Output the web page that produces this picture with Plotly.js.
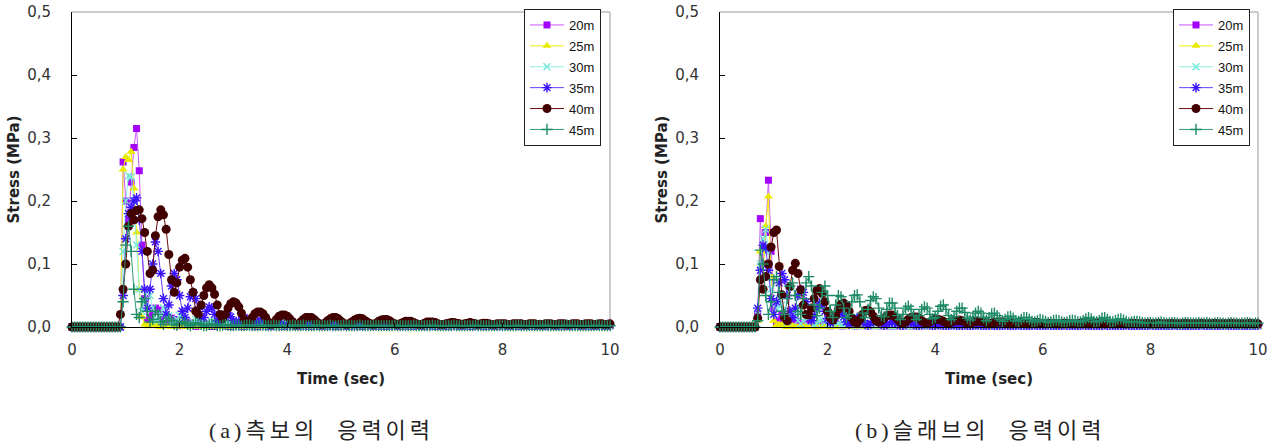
<!DOCTYPE html>
<html>
<head>
<meta charset="utf-8">
<script src="https://cdn.plot.ly/plotly-3.0.1.min.js"></script>
<style>
  html, body { margin: 0; padding: 0; background: #fff; }
  #chart { width: 1268px; height: 444px; }
</style>
</head>
<body>
<div id="chart"></div>
<script>
// Sampling instants (sec), 0.05 s step
const time = [
  0,0.05,0.1,0.15,0.2,0.25,0.3,0.35,0.4,0.45,0.5,0.55,0.6,0.65,0.7,0.75,0.8,0.85,0.9,0.95,
  1,1.05,1.1,1.15,1.2,1.25,1.3,1.35,1.4,1.45,1.5,1.55,1.6,1.65,1.7,1.75,1.8,1.85,1.9,1.95,
  2,2.05,2.1,2.15,2.2,2.25,2.3,2.35,2.4,2.45,2.5,2.55,2.6,2.65,2.7,2.75,2.8,2.85,2.9,2.95,
  3,3.05,3.1,3.15,3.2,3.25,3.3,3.35,3.4,3.45,3.5,3.55,3.6,3.65,3.7,3.75,3.8,3.85,3.9,3.95,
  4,4.05,4.1,4.15,4.2,4.25,4.3,4.35,4.4,4.45,4.5,4.55,4.6,4.65,4.7,4.75,4.8,4.85,4.9,4.95,
  5,5.05,5.1,5.15,5.2,5.25,5.3,5.35,5.4,5.45,5.5,5.55,5.6,5.65,5.7,5.75,5.8,5.85,5.9,5.95,
  6,6.05,6.1,6.15,6.2,6.25,6.3,6.35,6.4,6.45,6.5,6.55,6.6,6.65,6.7,6.75,6.8,6.85,6.9,6.95,
  7,7.05,7.1,7.15,7.2,7.25,7.3,7.35,7.4,7.45,7.5,7.55,7.6,7.65,7.7,7.75,7.8,7.85,7.9,7.95,
  8,8.05,8.1,8.15,8.2,8.25,8.3,8.35,8.4,8.45,8.5,8.55,8.6,8.65,8.7,8.75,8.8,8.85,8.9,8.95,
  9,9.05,9.1,9.15,9.2,9.25,9.3,9.35,9.4,9.45,9.5,9.55,9.6,9.65,9.7,9.75,9.8,9.85,9.9,9.95,
  10
];

const seriesLabels = ['20m', '25m', '30m', '35m', '40m', '45m'];

// (a) side beam stress history (MPa)
const beam20 = [
  0,0,0,0,0,0,0,0,0,0,0,0,0,0,0,0,0,0,0,0.262,
  0.2,0.17,0.23,0.285,0.315,0.248,0.13,0.045,0.01,0.015,0.025,0.03,0.027,0.015,0.005,0.004,0.01,0.014,0.012,0.006,
  0.002,0.003,0.006,0.008,0.006,0.003,0.001,0.002,0.004,0.005,0.004,0.002,0.001,0.001,0.003,0.004,0.003,0.002,0.001,0.001,
  0.002,0.003,0.002,0.001,0.001,0.002,0.003,0.002,0.001,0.001,0.002,0.002,0.002,0.001,0.001,0.002,0.003,0.002,0.001,0.001,
  0.002,0.002,0.002,0.001,0.001,0.002,0.002,0.002,0.001,0.001,0.002,0.002,0.002,0.001,0.001,0.002,0.002,0.002,0.001,0.001,
  0.002,0.002,0.001,0.001,0.002,0.002,0.002,0.001,0.001,0.002,0.002,0.002,0.001,0.001,0.002,0.002,0.001,0.001,0.002,0.002,
  0.002,0.001,0.001,0.002,0.002,0.002,0.001,0.001,0.002,0.002,0.001,0.001,0.002,0.002,0.002,0.001,0.001,0.002,0.002,0.001,
  0.001,0.002,0.002,0.002,0.001,0.001,0.002,0.002,0.001,0.001,0.002,0.002,0.002,0.001,0.001,0.002,0.002,0.001,0.001,0.002,
  0.002,0.002,0.001,0.001,0.002,0.002,0.001,0.001,0.002,0.002,0.002,0.001,0.001,0.002,0.002,0.001,0.001,0.002,0.002,0.002,
  0.001,0.001,0.002,0.002,0.001,0.001,0.002,0.002,0.002,0.001,0.001,0.002,0.002,0.001,0.001,0.002,0.002,0.002,0.001,0.001,
  0.002
];
const beam25 = [
  0,0,0,0,0,0,0,0,0,0,0,0,0,0,0,0,0,0,0,0.25,
  0.27,0.265,0.278,0.22,0.15,0.06,0.016,0.004,0.001,0.003,0.004,0.002,0.001,0,0.001,0.002,0.001,0,0,0.001,
  0.001,0,0,0.001,0.001,0,0,0,0.001,0.001,0,0,0,0.001,0,0,0,0.001,0,0,
  0,0.001,0,0,0,0.001,0,0,0,0,0.001,0,0,0,0,0.001,0,0,0,0,
  0,0,0.001,0,0,0,0,0.001,0,0,0,0,0,0.001,0,0,0,0,0,0,
  0,0,0,0,0,0,0,0,0,0,0,0,0,0,0,0,0,0,0,0,
  0,0,0,0,0,0,0,0,0,0,0,0,0,0,0,0,0,0,0,0,
  0,0,0,0,0,0,0,0,0,0,0,0,0,0,0,0,0,0,0,0,
  0,0,0,0,0,0,0,0,0,0,0,0,0,0,0,0,0,0,0,0,
  0,0,0,0,0,0,0,0,0,0,0,0,0,0,0,0,0,0,0,0,
  0
];
const beam30 = [
  0,0,0,0,0,0,0,0,0,0,0,0,0,0,0,0,0,0,0,0.12,
  0.2,0.24,0.238,0.2,0.13,0.06,0.025,0.04,0.055,0.05,0.03,0.012,0.01,0.02,0.03,0.028,0.018,0.008,0.006,0.012,
  0.018,0.017,0.011,0.005,0.004,0.008,0.012,0.012,0.008,0.004,0.003,0.006,0.009,0.008,0.005,0.003,0.003,0.005,0.007,0.006,
  0.004,0.002,0.003,0.005,0.005,0.004,0.002,0.002,0.003,0.004,0.004,0.003,0.002,0.002,0.003,0.003,0.003,0.002,0.002,0.002,
  0.003,0.003,0.002,0.002,0.002,0.003,0.003,0.002,0.002,0.002,0.003,0.003,0.002,0.002,0.002,0.003,0.002,0.002,0.002,0.003,
  0.002,0.002,0.002,0.003,0.002,0.002,0.002,0.003,0.002,0.002,0.002,0.003,0.002,0.002,0.002,0.002,0.003,0.002,0.002,0.002,
  0.002,0.003,0.002,0.002,0.002,0.002,0.003,0.002,0.002,0.002,0.002,0.002,0.003,0.002,0.002,0.002,0.002,0.002,0.003,0.002,
  0.002,0.002,0.002,0.002,0.003,0.002,0.002,0.002,0.002,0.002,0.002,0.003,0.002,0.002,0.002,0.002,0.002,0.002,0.003,0.002,
  0.002,0.002,0.002,0.002,0.002,0.003,0.002,0.002,0.002,0.002,0.002,0.002,0.002,0.003,0.002,0.002,0.002,0.002,0.002,0.002,
  0.002,0.003,0.002,0.002,0.002,0.002,0.002,0.002,0.002,0.002,0.003,0.002,0.002,0.002,0.002,0.002,0.002,0.002,0.002,0.002,
  0.002
];
const beam35 = [
  0,0,0,0,0,0,0,0,0,0,0,0,0,0,0,0,0,0,0,0.05,
  0.14,0.18,0.19,0.2,0.205,0.17,0.12,0.06,0.03,0.06,0.1,0.135,0.12,0.085,0.045,0.02,0.035,0.065,0.085,0.075,
  0.05,0.025,0.015,0.03,0.048,0.055,0.045,0.028,0.015,0.015,0.025,0.032,0.03,0.02,0.01,0.008,0.014,0.02,0.022,0.016,
  0.01,0.006,0.008,0.012,0.015,0.012,0.008,0.005,0.005,0.008,0.011,0.01,0.007,0.004,0.004,0.006,0.008,0.008,0.006,0.004,
  0.003,0.004,0.006,0.006,0.005,0.003,0.003,0.004,0.005,0.005,0.004,0.003,0.003,0.004,0.004,0.004,0.003,0.003,0.003,0.004,
  0.004,0.004,0.003,0.003,0.003,0.004,0.004,0.003,0.003,0.003,0.004,0.004,0.003,0.003,0.003,0.004,0.003,0.003,0.003,0.004,
  0.003,0.003,0.004,0.003,0.003,0.003,0.004,0.003,0.003,0.003,0.003,0.004,0.003,0.003,0.003,0.003,0.004,0.003,0.003,0.003,
  0.003,0.004,0.003,0.003,0.003,0.003,0.003,0.004,0.003,0.003,0.003,0.003,0.003,0.004,0.003,0.003,0.003,0.003,0.003,0.003,
  0.004,0.003,0.003,0.003,0.003,0.003,0.003,0.004,0.003,0.003,0.003,0.003,0.003,0.003,0.004,0.003,0.003,0.003,0.003,0.003,
  0.003,0.003,0.004,0.003,0.003,0.003,0.003,0.003,0.003,0.003,0.004,0.003,0.003,0.003,0.003,0.003,0.003,0.003,0.003,0.004,
  0.003
];
const beam40 = [
  0,0,0,0,0,0,0,0,0,0,0,0,0,0,0,0,0,0,0.02,0.06,
  0.1,0.16,0.18,0.17,0.185,0.186,0.172,0.15,0.12,0.085,0.09,0.145,0.175,0.186,0.178,0.155,0.115,0.075,0.055,0.07,
  0.095,0.106,0.109,0.095,0.075,0.055,0.025,0.02,0.035,0.05,0.062,0.067,0.062,0.052,0.035,0.02,0.013,0.02,0.03,0.037,
  0.04,0.038,0.032,0.022,0.012,0.006,0.008,0.015,0.021,0.024,0.024,0.021,0.015,0.008,0.004,0.006,0.012,0.017,0.019,0.019,
  0.017,0.013,0.008,0.004,0.004,0.008,0.012,0.015,0.015,0.015,0.012,0.008,0.005,0.004,0.006,0.01,0.013,0.015,0.015,0.013,
  0.009,0.006,0.004,0.005,0.008,0.011,0.013,0.014,0.013,0.01,0.007,0.005,0.004,0.006,0.009,0.011,0.012,0.012,0.01,0.007,
  0.005,0.004,0.005,0.007,0.009,0.009,0.009,0.007,0.005,0.004,0.004,0.006,0.008,0.008,0.008,0.007,0.005,0.004,0.004,0.005,
  0.006,0.007,0.007,0.006,0.005,0.004,0.005,0.006,0.007,0.006,0.005,0.004,0.005,0.006,0.006,0.005,0.004,0.004,0.005,0.005,
  0.005,0.005,0.004,0.004,0.005,0.005,0.005,0.005,0.004,0.004,0.005,0.005,0.005,0.004,0.004,0.004,0.005,0.005,0.005,0.004,
  0.004,0.005,0.005,0.005,0.004,0.004,0.005,0.005,0.005,0.004,0.004,0.005,0.005,0.005,0.004,0.004,0.005,0.005,0.004,0.004,
  0.005
];
const beam45 = [
  0,0,0,0,0,0,0,0,0,0,0,0,0,0,0,0,0,0,0,0.04,
  0.13,0.16,0.12,0.06,0.02,0.015,0.04,0.045,0.025,0.008,0.012,0.025,0.02,0.008,0.004,0.01,0.014,0.01,0.004,0.003,
  0.006,0.009,0.007,0.004,0.002,0.004,0.006,0.006,0.004,0.002,0.002,0.004,0.005,0.004,0.002,0.002,0.003,0.004,0.003,0.002,
  0.002,0.003,0.003,0.002,0.002,0.003,0.003,0.002,0.002,0.002,0.003,0.003,0.002,0.002,0.002,0.003,0.002,0.002,0.002,0.003,
  0.002,0.002,0.003,0.002,0.002,0.002,0.003,0.002,0.002,0.002,0.002,0.003,0.002,0.002,0.002,0.002,0.003,0.002,0.002,0.002,
  0.002,0.003,0.002,0.002,0.002,0.002,0.002,0.003,0.002,0.002,0.002,0.002,0.002,0.003,0.002,0.002,0.002,0.002,0.002,0.002,
  0.003,0.002,0.002,0.002,0.002,0.002,0.002,0.003,0.002,0.002,0.002,0.002,0.002,0.002,0.003,0.002,0.002,0.002,0.002,0.002,
  0.002,0.002,0.003,0.002,0.002,0.002,0.002,0.002,0.002,0.002,0.003,0.002,0.002,0.002,0.002,0.002,0.002,0.002,0.002,0.003,
  0.002,0.002,0.002,0.002,0.002,0.002,0.003,0.002,0.002,0.002,0.002,0.002,0.002,0.002,0.002,0.002,0.003,0.002,0.002,0.002,
  0.002,0.002,0.002,0.002,0.003,0.002,0.002,0.002,0.002,0.002,0.002,0.002,0.002,0.002,0.002,0.003,0.002,0.002,0.002,0.002,
  0.002
];

// (b) slab stress history (MPa)
const slab20 = [
  0,0,0,0,0,0,0,0,0,0,0,0,0,0,0.02,0.172,0.1,0.15,0.233,0.12,
  0.03,0.005,0.01,0.02,0.018,0.008,0.003,0.008,0.012,0.009,0.004,0.003,0.006,0.008,0.006,0.003,0.002,0.004,0.006,0.005,
  0.003,0.002,0.003,0.005,0.004,0.002,0.002,0.003,0.004,0.003,0.002,0.002,0.003,0.003,0.002,0.002,0.002,0.003,0.003,0.002,
  0.002,0.002,0.003,0.002,0.002,0.002,0.002,0.003,0.002,0.002,0.002,0.002,0.002,0.003,0.002,0.002,0.002,0.002,0.002,0.002,
  0.003,0.002,0.002,0.002,0.002,0.002,0.002,0.002,0.003,0.002,0.002,0.002,0.002,0.002,0.002,0.002,0.002,0.003,0.002,0.002,
  0.002,0.002,0.002,0.002,0.002,0.002,0.002,0.002,0.002,0.002,0.002,0.002,0.002,0.002,0.002,0.002,0.002,0.002,0.002,0.002,
  0.002,0.002,0.002,0.002,0.002,0.002,0.002,0.002,0.002,0.002,0.002,0.002,0.002,0.002,0.002,0.002,0.002,0.002,0.002,0.002,
  0.002,0.002,0.002,0.002,0.002,0.002,0.002,0.002,0.002,0.002,0.002,0.002,0.002,0.002,0.002,0.002,0.002,0.002,0.002,0.002,
  0.002,0.002,0.002,0.002,0.002,0.002,0.002,0.002,0.002,0.002,0.002,0.002,0.002,0.002,0.002,0.002,0.002,0.002,0.002,0.002,
  0.002,0.002,0.002,0.002,0.002,0.002,0.002,0.002,0.002,0.002,0.002,0.002,0.002,0.002,0.002,0.002,0.002,0.002,0.002,0.002,
  0.002
];
const slab25 = [
  0,0,0,0,0,0,0,0,0,0,0,0,0,0,0.01,0.12,0.08,0.16,0.207,0.08,
  0.01,0.003,0.004,0.003,0.001,0,0.001,0.002,0.001,0,0,0.001,0.001,0,0,0,0.001,0,0,0,
  0,0.001,0,0,0,0,0.001,0,0,0,0,0,0.001,0,0,0,0,0,0,0,
  0,0,0,0,0,0,0,0,0,0,0,0,0,0,0,0,0,0,0,0,
  0,0,0,0,0,0,0,0,0,0,0,0,0,0,0,0,0,0,0,0,
  0,0,0,0,0,0,0,0,0,0,0,0,0,0,0,0,0,0,0,0,
  0,0,0,0,0,0,0,0,0,0,0,0,0,0,0,0,0,0,0,0,
  0,0,0,0,0,0,0,0,0,0,0,0,0,0,0,0,0,0,0,0,
  0,0,0,0,0,0,0,0,0,0,0,0,0,0,0,0,0,0,0,0,
  0,0,0,0,0,0,0,0,0,0,0,0,0,0,0,0,0,0,0,0,
  0
];
const slab30 = [
  0,0,0,0,0,0,0,0,0,0,0,0,0,0,0.02,0.1,0.14,0.155,0.12,0.06,
  0.02,0.03,0.045,0.035,0.015,0.008,0.018,0.025,0.02,0.01,0.005,0.01,0.016,0.015,0.009,0.004,0.006,0.01,0.011,0.007,
  0.004,0.004,0.007,0.008,0.006,0.003,0.003,0.005,0.006,0.005,0.003,0.002,0.004,0.005,0.004,0.002,0.002,0.003,0.004,0.003,
  0.002,0.002,0.003,0.003,0.002,0.002,0.002,0.003,0.003,0.002,0.002,0.002,0.003,0.002,0.002,0.002,0.002,0.003,0.002,0.002,
  0.002,0.003,0.002,0.002,0.002,0.002,0.003,0.002,0.002,0.002,0.002,0.002,0.003,0.002,0.002,0.002,0.002,0.002,0.002,0.003,
  0.002,0.002,0.002,0.002,0.002,0.002,0.002,0.003,0.002,0.002,0.002,0.002,0.002,0.002,0.002,0.002,0.003,0.002,0.002,0.002,
  0.002,0.002,0.002,0.002,0.002,0.002,0.002,0.002,0.002,0.003,0.002,0.002,0.002,0.002,0.002,0.002,0.002,0.002,0.002,0.002,
  0.002,0.002,0.002,0.003,0.002,0.002,0.002,0.002,0.002,0.002,0.002,0.002,0.002,0.002,0.002,0.003,0.002,0.002,0.002,0.002,
  0.002,0.002,0.002,0.002,0.002,0.002,0.002,0.002,0.002,0.002,0.002,0.002,0.002,0.002,0.002,0.002,0.002,0.002,0.002,0.002,
  0.002,0.002,0.002,0.002,0.002,0.002,0.002,0.002,0.002,0.002,0.002,0.002,0.002,0.002,0.002,0.002,0.002,0.002,0.002,0.002,
  0.002
];
const slab35 = [
  0,0,0,0,0,0,0,0,0,0,0,0,0,0,0.03,0.09,0.13,0.125,0.09,0.045,
  0.02,0.04,0.07,0.085,0.075,0.05,0.025,0.015,0.03,0.05,0.06,0.055,0.04,0.02,0.01,0.018,0.03,0.038,0.035,0.025,
  0.013,0.006,0.01,0.018,0.024,0.022,0.016,0.008,0.004,0.007,0.012,0.015,0.014,0.01,0.005,0.003,0.006,0.009,0.01,0.008,
  0.005,0.003,0.004,0.006,0.008,0.007,0.005,0.003,0.003,0.005,0.006,0.006,0.004,0.003,0.003,0.004,0.005,0.005,0.004,0.003,
  0.003,0.004,0.004,0.003,0.003,0.003,0.004,0.004,0.003,0.003,0.003,0.004,0.003,0.003,0.003,0.004,0.004,0.003,0.003,0.003,
  0.003,0.004,0.003,0.003,0.003,0.003,0.004,0.003,0.003,0.003,0.003,0.004,0.003,0.003,0.003,0.003,0.003,0.004,0.003,0.003,
  0.003,0.003,0.004,0.003,0.003,0.003,0.003,0.003,0.004,0.003,0.003,0.003,0.003,0.003,0.003,0.004,0.003,0.003,0.003,0.003,
  0.003,0.003,0.003,0.004,0.003,0.003,0.003,0.003,0.003,0.003,0.003,0.004,0.003,0.003,0.003,0.003,0.003,0.003,0.003,0.003,
  0.004,0.003,0.003,0.003,0.003,0.003,0.003,0.003,0.003,0.004,0.003,0.003,0.003,0.003,0.003,0.003,0.003,0.003,0.003,0.004,
  0.003,0.003,0.003,0.003,0.003,0.003,0.003,0.003,0.004,0.003,0.003,0.003,0.003,0.003,0.003,0.003,0.003,0.003,0.003,0.003,
  0.003
];
const slab40 = [
  0,0,0,0,0,0,0,0,0,0,0,0,0,0,0.014,0.075,0.06,0.08,0.1,0.127,
  0.15,0.154,0.096,0.051,0.015,0.01,0.064,0.09,0.101,0.085,0.059,0.035,0.02,0.019,0.03,0.045,0.058,0.061,0.053,0.04,
  0.025,0.014,0.011,0.018,0.028,0.036,0.038,0.035,0.025,0.014,0.008,0.006,0.012,0.02,0.026,0.027,0.024,0.017,0.01,0.008,
  0.01,0.014,0.018,0.019,0.019,0.016,0.012,0.008,0.006,0.008,0.012,0.015,0.016,0.016,0.014,0.01,0.007,0.006,0.008,0.011,
  0.013,0.012,0.011,0.009,0.007,0.006,0.008,0.01,0.01,0.011,0.01,0.008,0.006,0.006,0.008,0.009,0.009,0.009,0.008,0.007,
  0.005,0.006,0.007,0.008,0.008,0.008,0.007,0.005,0.005,0.006,0.007,0.007,0.007,0.006,0.005,0.005,0.006,0.007,0.007,0.006,
  0.005,0.005,0.006,0.006,0.006,0.005,0.005,0.005,0.006,0.006,0.006,0.005,0.005,0.005,0.006,0.006,0.005,0.005,0.005,0.006,
  0.006,0.005,0.005,0.005,0.006,0.006,0.005,0.005,0.005,0.006,0.005,0.005,0.005,0.006,0.006,0.005,0.005,0.005,0.005,0.006,
  0.005,0.005,0.005,0.006,0.005,0.005,0.005,0.005,0.006,0.005,0.005,0.005,0.005,0.006,0.005,0.005,0.005,0.005,0.005,0.006,
  0.005,0.005,0.005,0.005,0.006,0.005,0.005,0.005,0.005,0.005,0.006,0.005,0.005,0.005,0.005,0.005,0.005,0.006,0.005,0.005,
  0.005
];
const slab45 = [
  0,0,0,0,0,0,0,0,0,0,0,0,0,0,0.01,0.122,0.1,0.05,0.02,0.04,
  0.075,0.08,0.055,0.025,0.02,0.045,0.065,0.07,0.05,0.025,0.02,0.045,0.07,0.08,0.065,0.035,0.018,0.03,0.055,0.065,
  0.05,0.025,0.015,0.035,0.05,0.048,0.03,0.015,0.02,0.04,0.05,0.051,0.04,0.022,0.015,0.028,0.042,0.048,0.045,0.03,
  0.018,0.016,0.028,0.038,0.038,0.03,0.018,0.012,0.02,0.03,0.033,0.028,0.018,0.012,0.018,0.028,0.032,0.03,0.02,0.013,
  0.015,0.025,0.033,0.035,0.028,0.018,0.012,0.016,0.025,0.03,0.03,0.023,0.014,0.011,0.016,0.022,0.025,0.022,0.015,0.01,
  0.015,0.021,0.022,0.018,0.012,0.009,0.012,0.016,0.017,0.014,0.01,0.009,0.012,0.015,0.015,0.012,0.009,0.008,0.01,0.012,
  0.011,0.009,0.007,0.008,0.01,0.011,0.01,0.008,0.007,0.008,0.01,0.011,0.01,0.008,0.008,0.01,0.013,0.015,0.013,0.009,
  0.008,0.01,0.014,0.015,0.012,0.009,0.008,0.01,0.012,0.013,0.011,0.009,0.007,0.008,0.009,0.009,0.008,0.007,0.006,0.007,
  0.007,0.006,0.006,0.007,0.008,0.007,0.006,0.006,0.007,0.007,0.006,0.005,0.006,0.007,0.007,0.006,0.006,0.006,0.007,0.006,
  0.006,0.007,0.006,0.005,0.006,0.007,0.006,0.006,0.005,0.006,0.007,0.006,0.006,0.005,0.006,0.006,0.007,0.006,0.005,0.006,
  0.006
];

const beamSeries = [beam20, beam25, beam30, beam35, beam40, beam45];
const slabSeries = [slab20, slab25, slab30, slab35, slab40, slab45];

// Line / marker look of each span length
const styles = [
  { line: '#cc55ff', marker: '#a400ff', symbol: 'square',          size: 7, open: false },
  { line: '#f0f000', marker: '#eaea00', symbol: 'triangle-up',     size: 8, open: false },
  { line: '#8ef0e2', marker: '#74e8d8', symbol: 'x-thin-open',     size: 7, open: true },
  { line: '#6a3cff', marker: '#3a12ff', symbol: 'asterisk-open',   size: 8, open: true },
  { line: '#6e0a0a', marker: '#420000', symbol: 'circle',          size: 9, open: false },
  { line: '#2f9a78', marker: '#1f8a66', symbol: 'cross-thin-open', size: 8, open: true }
];

function makeTraces(series, xa, ya, legendId, groupPrefix) {
  return series.map((vals, k) => {
    const s = styles[k];
    const marker = { symbol: s.symbol, size: s.size, color: s.marker };
    if (s.open) marker.line = { color: s.marker, width: 1.4 };
    else marker.line = { color: s.marker, width: 0 };
    return {
      type: 'scatter', mode: 'lines+markers',
      x: time, y: vals, xaxis: xa, yaxis: ya,
      name: seriesLabels[k], legend: legendId, legendgroup: groupPrefix + k,
      line: { color: s.line, width: 1 },
      marker: marker, cliponaxis: false
    };
  });
}

const traces = makeTraces(beamSeries, 'x', 'y', 'legend', 'a')
  .concat(makeTraces(slabSeries, 'x2', 'y2', 'legend2', 'b'));

const W = 1268, H = 444;
const tickFont = { family: 'DejaVu Sans, sans-serif', size: 15, color: '#333' };
const titleFont = { family: 'DejaVu Sans, sans-serif', size: 15, color: '#222', weight: 'bold' };

function xAxis(x0, x1, anchor) {
  return {
    domain: [x0 / W, x1 / W], anchor: anchor, range: [0, 10], tick0: 0, dtick: 2,
    showgrid: false, zeroline: false, showline: true, linecolor: '#000', linewidth: 1,
    ticks: 'inside', ticklen: 4, tickcolor: '#000', tickfont: tickFont, ticklabelstandoff: 9,
    title: { text: 'Time (sec)', font: titleFont, standoff: 15 }
  };
}
function yAxis(anchor) {
  return {
    domain: [1 - 327 / H, 1 - 12 / H], anchor: anchor, range: [0, 0.5], dtick: 0.1,
    tickformat: '.1f', showgrid: false, zeroline: false, showline: true, linecolor: '#000',
    linewidth: 1, ticks: 'inside', ticklen: 5, tickcolor: '#000', tickfont: tickFont,
    ticklabelstandoff: 17,
    title: { text: 'Stress (MPa)', font: titleFont, standoff: 3 }
  };
}

function frame(xr, yr) {
  return [
    { type: 'line', xref: xr + ' domain', yref: yr + ' domain', x0: 0, x1: 1, y0: 1, y1: 1,
      line: { color: '#9a9a9a', width: 1 }, layer: 'below' },
    { type: 'line', xref: xr + ' domain', yref: yr + ' domain', x0: 1, x1: 1, y0: 0, y1: 1,
      line: { color: '#9a9a9a', width: 1 }, layer: 'below' }
  ];
}

function legendBox(left) {
  return {
    x: left / W, y: 1 - 9 / H, xanchor: 'left', yanchor: 'top',
    bgcolor: '#fff', bordercolor: '#222', borderwidth: 1,
    font: { family: 'Liberation Sans Narrow, Liberation Sans, Arial, sans-serif', size: 13, color: '#111' },
    tracegroupgap: 1, itemwidth: 34
  };
}

const captionFont = { family: 'Liberation Serif, "Noto Sans CJK KR", serif', size: 22, color: '#222' };
const spaced = t => '<span style="letter-spacing:4px">' + t + '</span>';

const layout = {
  width: W, height: H, margin: { l: 0, r: 0, t: 0, b: 0 },
  paper_bgcolor: '#fff', plot_bgcolor: '#fff',
  separators: ',.', showlegend: true,
  xaxis: xAxis(72, 610, 'y'), yaxis: yAxis('x'),
  xaxis2: xAxis(720, 1258, 'y2'), yaxis2: yAxis('x2'),
  legend: legendBox(524), legend2: legendBox(1173),
  shapes: frame('x', 'y').concat(frame('x2', 'y2')),
  annotations: [
    { text: spaced('(a)측보의  응력이력'), xref: 'paper', yref: 'paper', x: 321 / W, y: 1 - 430 / H,
      xanchor: 'center', yanchor: 'middle', showarrow: false, font: captionFont },
    { text: spaced('(b)슬래브의  응력이력'), xref: 'paper', yref: 'paper', x: 980 / W, y: 1 - 430 / H,
      xanchor: 'center', yanchor: 'middle', showarrow: false, font: captionFont }
  ]
};

Plotly.newPlot('chart', traces, layout, { staticPlot: true, displayModeBar: false });
</script>
</body>
</html>
